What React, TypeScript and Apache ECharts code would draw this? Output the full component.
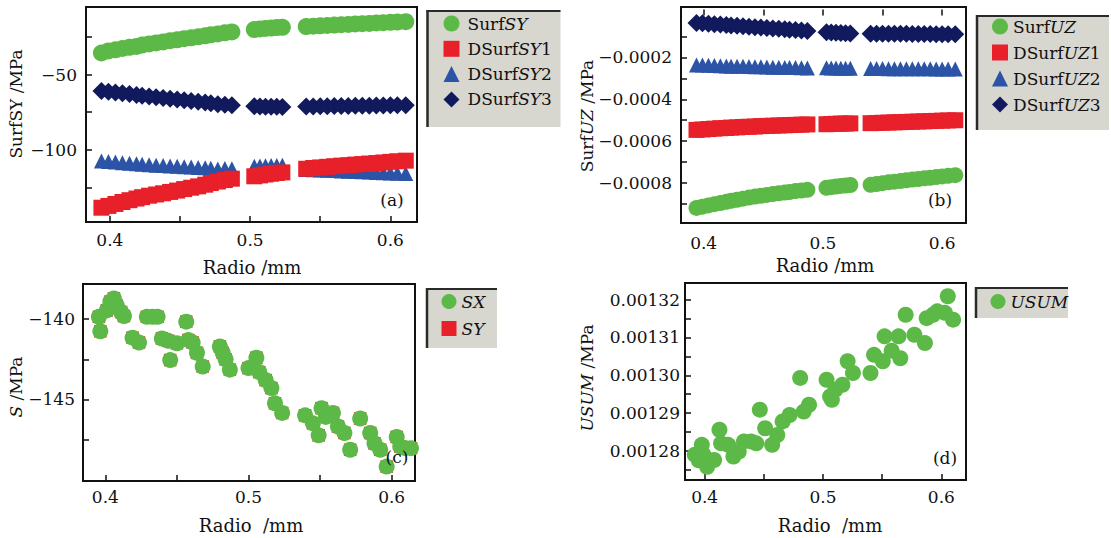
import React, { useEffect, useRef } from "react";
import * as echarts from "echarts";

// ---------- data ----------
const radius = [
  0.394, 0.399, 0.404, 0.409, 0.414, 0.419, 0.423, 0.428, 0.433, 0.438,
  0.443, 0.448, 0.453, 0.458, 0.463, 0.468, 0.472, 0.477, 0.482, 0.487,
  0.503, 0.507, 0.511, 0.515, 0.519, 0.523,
  0.54, 0.545, 0.55, 0.555, 0.56, 0.565, 0.57, 0.575, 0.58, 0.585, 0.59, 0.595, 0.6, 0.605, 0.611,
];
const surfSY = [
  -35.6, -34.2, -33.5, -32.6, -31.8, -31.2, -30.3, -29.6, -28.9, -28.2,
  -27.4, -26.8, -26.1, -25.5, -24.8, -24.2, -23.5, -22.9, -22.2, -21.6,
  -20.0, -19.6, -19.3, -19.0, -18.7, -18.5,
  -18.0, -17.8, -17.5, -17.3, -17.0, -16.8, -16.6, -16.3, -16.1, -15.9, -15.6, -15.4, -15.2, -15.0, -14.8,
];
const dSurfSY1 = [
  -138.5, -137.3, -136.0, -134.7, -133.5, -132.4, -131.5, -130.5, -129.7, -128.9,
  -128.0, -127.1, -126.1, -125.2, -124.3, -123.2, -122.1, -121.1, -120.1, -119.2,
  -117.6, -117.0, -116.4, -115.9, -115.4, -115.0,
  -112.6, -112.1, -111.7, -111.3, -110.9, -110.5, -110.2, -109.8, -109.5, -109.1, -108.8, -108.4, -108.0, -107.6, -107.2,
];
const dSurfSY2 = [
  -107.4, -107.8, -108.1, -108.6, -108.9, -109.2, -109.6, -109.9, -110.2, -110.5,
  -110.7, -111.0, -111.3, -111.5, -111.8, -112.0, -112.3, -112.8, -112.4, -112.6,
  -110.9, -110.7, -110.6, -110.5, -110.4, -110.3,
  -113.0, -113.2, -113.4, -113.6, -113.8, -114.0, -114.2, -114.4, -114.6, -114.8, -115.0, -115.2, -115.4, -115.6, -115.8,
];
const dSurfSY3 = [
  -60.8, -61.3, -61.9, -62.4, -62.9, -63.5, -64.0, -64.5, -65.0, -65.5,
  -66.1, -66.6, -67.1, -67.6, -68.1, -68.6, -69.1, -69.6, -70.0, -70.4,
  -71.0, -71.2, -71.3, -71.4, -71.4, -71.5,
  -71.2, -71.1, -71.0, -71.0, -70.9, -70.8, -70.8, -70.7, -70.6, -70.6, -70.5, -70.5, -70.4, -70.4, -70.3,
];

const surfUZ = [
  -0.000918, -0.000912, -0.000906, -0.0009, -0.000895, -0.000889, -0.000884, -0.000879, -0.000874, -0.000869,
  -0.000864, -0.00086, -0.000856, -0.000852, -0.000848, -0.000845, -0.000842, -0.000838, -0.000835, -0.000832,
  -0.000822, -0.000819, -0.000816, -0.000813, -0.000811, -0.000809,
  -0.000808, -0.000804, -0.0008, -0.000796, -0.000793, -0.00079, -0.000786, -0.000783, -0.00078, -0.000777, -0.000774, -0.000771, -0.000768, -0.000765, -0.000762,
];
const dSurfUZ1 = [
  -0.000546, -0.000544, -0.000542, -0.00054, -0.000538, -0.000537, -0.000535, -0.000534, -0.000532, -0.000531,
  -0.00053, -0.000528, -0.000527, -0.000526, -0.000525, -0.000524, -0.000523, -0.000522, -0.000521, -0.00052,
  -0.000519, -0.000518, -0.000517, -0.000516, -0.000516, -0.000515,
  -0.000514, -0.000513, -0.000512, -0.000511, -0.00051, -0.000509, -0.000508, -0.000507, -0.000506, -0.000505, -0.000504, -0.000503, -0.000502, -0.000501, -0.0005,
];
const dSurfUZ2 = [
  -0.000236, -0.000237, -0.000238, -0.000239, -0.00024, -0.000241, -0.000242, -0.000242, -0.000243, -0.000244,
  -0.000245, -0.000245, -0.000246, -0.000247, -0.000247, -0.000248, -0.000249, -0.000249, -0.00025, -0.000251,
  -0.00025, -0.000251, -0.000251, -0.000252, -0.000252, -0.000252,
  -0.000253, -0.000253, -0.000253, -0.000254, -0.000254, -0.000254, -0.000254, -0.000255, -0.000255, -0.000255, -0.000255, -0.000256, -0.000256, -0.000256, -0.000256,
];
const dSurfUZ3 = [
  -0.000036, -0.000038, -0.00004, -0.000042, -0.000044, -0.000046, -0.000048, -0.00005, -0.000052, -0.000054,
  -0.000056, -0.000058, -0.00006, -0.000062, -0.000064, -0.000066, -0.000068, -0.00007, -0.000072, -0.000075,
  -0.000081, -0.000082, -0.000083, -0.000084, -0.000085, -0.000086,
  -0.000087, -0.000087, -0.000087, -0.000088, -0.000088, -0.000088, -0.000088, -0.000089, -0.000089, -0.000089, -0.000089, -0.00009, -0.00009, -0.00009, -0.00009,
];

const radiusC = [
  0.3955, 0.3965, 0.401, 0.4035, 0.406, 0.408, 0.411, 0.413, 0.419, 0.4235,
  0.429, 0.433, 0.4365, 0.4395, 0.444, 0.4453, 0.45, 0.4565, 0.458, 0.461,
  0.464, 0.468, 0.48, 0.482, 0.484, 0.487, 0.5, 0.5055, 0.5075, 0.512,
  0.516, 0.5185, 0.5235, 0.5395, 0.545, 0.549, 0.551, 0.554, 0.559, 0.5625,
  0.567, 0.571, 0.578, 0.585, 0.588, 0.592, 0.5965, 0.6035, 0.606, 0.6095, 0.6135,
];
const sxValues = [
  -139.85, -140.75, -139.45, -138.9, -138.7, -139.15, -139.55, -139.8, -141.15, -141.45,
  -139.85, -139.85, -139.85, -141.2, -141.35, -142.55, -141.5, -140.15, -141.3, -141.45,
  -142.1, -142.95, -141.7, -142.1, -142.5, -143.15, -143.05, -142.4, -143.3, -143.8,
  -144.3, -145.25, -145.85, -146.0, -146.5, -147.25, -145.55, -146.1, -145.85, -146.7,
  -147.1, -148.15, -146.2, -147.1, -147.75, -148.15, -149.2, -147.35, -147.95, -148.05, -148.05,
];
const syValues = sxValues.slice();

const radiusD = [
  0.3917, 0.395, 0.3976, 0.3991, 0.4021, 0.408, 0.4125, 0.4139, 0.4199, 0.4243,
  0.4288, 0.4332, 0.4392, 0.4436, 0.4466, 0.4511, 0.457, 0.4614, 0.4659, 0.4718,
  0.4807, 0.4837, 0.4882, 0.503, 0.506, 0.5075, 0.5104, 0.5164, 0.5208, 0.5253,
  0.5401, 0.5431, 0.5505, 0.552, 0.558, 0.5638, 0.5653, 0.5698, 0.5772, 0.5861,
  0.5876, 0.593, 0.5965, 0.603, 0.6054, 0.6099,
];
const usumValues = [
  0.001279, 0.0012775, 0.0012816, 0.0012789, 0.0012758, 0.0012776, 0.0012856, 0.001282, 0.0012816, 0.0012785,
  0.0012798, 0.0012825, 0.0012825, 0.001282, 0.0012909, 0.001286, 0.0012816, 0.0012842, 0.0012878, 0.0012895,
  0.0012993, 0.0012904, 0.0012922, 0.0012988, 0.0012944, 0.0012935, 0.0012962, 0.0012975, 0.0013037, 0.0013006,
  0.0013006, 0.0013054, 0.0013037, 0.0013103, 0.0013065, 0.0013103, 0.0013045, 0.001316, 0.0013107, 0.0013085,
  0.0013151, 0.001316, 0.0013169, 0.0013165, 0.0013209, 0.0013147,
];

const xTicks = [0.4, 0.45, 0.5, 0.55, 0.6];
const xLabels = [0.4, 0.5, 0.6];
const yTicksA = [-125, -100, -75, -50, -25];
const yLabelsA = [-100, -50];
const yTicksB = [-0.0009, -0.0008, -0.0007, -0.0006, -0.0005, -0.0004, -0.0003, -0.0002, -0.0001];
const yLabelsB = [-0.0008, -0.0006, -0.0004, -0.0002];
const yTicksC = [-147.5, -145, -142.5, -140];
const yLabelsC = [-145, -140];
const yTicksD = [0.001275, 0.00128, 0.001285, 0.00129, 0.001295, 0.0013, 0.001305, 0.00131, 0.001315, 0.00132];
const yLabelsD = [0.00128, 0.00129, 0.0013, 0.00131, 0.00132];

// ---------- styling ----------
const FONT = '"DejaVu Serif", "Liberation Serif", serif';
const INK = "#111111";
const GREEN = "#5cb947";
const RED = "#e8202a";
const BLUE = "#2b53a6";
const NAVY = "#121a5e";
const LEGEND_BG = "#d7d7d0";

const MINUS = "\u2212";
const fmtNum = (v: number, d: number) => (v < 0 ? MINUS : "") + Math.abs(v).toFixed(d);

const rich = (size: number) => ({
  r: { fontFamily: FONT, fontSize: size, color: INK, lineHeight: 20 },
  i: { fontFamily: FONT, fontSize: size, color: INK, fontStyle: "italic", lineHeight: 20 },
});

const zip = (xs: number[], ys: number[]) => xs.map((x, i) => [x, ys[i]]);

function xAxis(gi: number, min: number, max: number, margin: number) {
  return {
    type: "value",
    gridIndex: gi,
    min,
    max,
    axisLine: { show: false },
    splitLine: { show: false },
    axisTick: { show: true, inside: true, length: 6, customValues: xTicks, lineStyle: { color: INK, width: 1.5 } },
    axisLabel: {
      customValues: xLabels,
      formatter: (v: number) => v.toFixed(1),
      color: INK,
      fontFamily: FONT,
      fontSize: 17,
      margin,
    },
  };
}

function yAxis(gi: number, min: number, max: number, ticks: number[], labels: number[], d: number, margin: number) {
  return {
    type: "value",
    gridIndex: gi,
    min,
    max,
    axisLine: { show: false },
    splitLine: { show: false },
    axisTick: { show: true, inside: true, length: 6, customValues: ticks, lineStyle: { color: INK, width: 1.5 } },
    axisLabel: {
      customValues: labels,
      formatter: (v: number) => fmtNum(v, d),
      color: INK,
      fontFamily: FONT,
      fontSize: 17,
      margin,
    },
  };
}

function scatter(name: string, gi: number, data: number[][], symbol: string, size: number, color: string, z = 2) {
  return {
    name,
    type: "scatter",
    xAxisIndex: gi,
    yAxisIndex: gi,
    data,
    symbol,
    symbolSize: size,
    itemStyle: { color, opacity: 1 },
    silent: true,
    z,
  };
}

const legendFmt: Record<string, string> = {
  SurfSY: "{r|Surf}{i|SY}",
  DSurfSY1: "{r|DSurf}{i|SY}{r|1}",
  DSurfSY2: "{r|DSurf}{i|SY}{r|2}",
  DSurfSY3: "{r|DSurf}{i|SY}{r|3}",
  SurfUZ: "{r|Surf}{i|UZ}",
  DSurfUZ1: "{r|DSurf}{i|UZ}{r|1}",
  DSurfUZ2: "{r|DSurf}{i|UZ}{r|2}",
  DSurfUZ3: "{r|DSurf}{i|UZ}{r|3}",
  SX: "{i|SX}",
  SY: "{i|SY}",
  USUM: "{i|USUM}",
};

function legend(names: string[], icons: string[], left: number, top: number, gap: number, iconSize: number, padLeft: number) {
  return {
    show: true,
    orient: "vertical",
    left,
    top,
    padding: 0,
    itemGap: gap,
    itemWidth: iconSize,
    itemHeight: iconSize,
    selectedMode: false,
    data: names.map((n, i) => ({ name: n, icon: icons[i] })),
    formatter: (n: string) => legendFmt[n],
    textStyle: { fontFamily: FONT, fontSize: 17, color: INK, padding: [0, 0, 0, padLeft], rich: rich(17) },
  };
}

function legendBox(x: number, y: number, w: number, h: number) {
  return [
    { type: "rect", shape: { x, y, width: w, height: h }, style: { fill: LEGEND_BG }, z: 0 },
    { type: "line", shape: { x1: x + 1, y1: y, x2: x + 1, y2: y + h }, style: { stroke: "#2a2a2a", lineWidth: 2.5 }, z: 1 },
    { type: "line", shape: { x1: x, y1: y + 1, x2: x + w, y2: y + 1 }, style: { stroke: "#2a2a2a", lineWidth: 2 }, z: 1 },
  ];
}

function label(text: string, x: number, y: number, size: number, rot = 0) {
  return {
    type: "text",
    x,
    y,
    rotation: rot,
    z: 20,
    style: {
      text,
      fill: INK,
      fontFamily: FONT,
      fontSize: size,
      align: "center",
      verticalAlign: "middle",
      textAlign: "center",
      textVerticalAlign: "middle",
      rich: {
        r: { fontFamily: FONT, fontSize: size, fill: INK },
        i: { fontFamily: FONT, fontSize: size, fill: INK, fontStyle: "italic" },
      },
    },
  };
}

export default function App() {
  const ref = useRef<HTMLDivElement>(null);
  useEffect(() => {
    if (!ref.current) return;
    const chart = echarts.init(ref.current, undefined, { renderer: "svg" });
    const gridStyle = { show: true, borderColor: INK, borderWidth: 2, backgroundColor: "transparent" };
    const option: any = {
      animation: false,
      backgroundColor: "#ffffff",
      grid: [
        { left: 86, top: 7, width: 331, height: 215, ...gridStyle },
        { left: 681, top: 7, width: 285, height: 216, ...gridStyle },
        { left: 83, top: 284, width: 332, height: 197, ...gridStyle },
        { left: 685, top: 283, width: 281, height: 197, ...gridStyle },
      ],
      xAxis: [
        xAxis(0, 0.383, 0.619, 9),
        xAxis(1, 0.381, 0.62, 11),
        xAxis(2, 0.3844, 0.6163, 7),
        xAxis(3, 0.3834, 0.6208, 8),
      ],
      yAxis: [
        yAxis(0, -148, -5, yTicksA, yLabelsA, 0, 9),
        yAxis(1, -0.00099, 0.00004, yTicksB, yLabelsB, 4, 9),
        yAxis(2, -150.1, -137.8, yTicksC, yLabelsC, 0, 8),
        yAxis(3, 0.0012723, 0.0013244, yTicksD, yLabelsD, 5, 5),
      ],
      legend: [
        legend(["SurfSY", "DSurfSY1", "DSurfSY2", "DSurfSY3"], ["circle", "rect", "triangle", "diamond"], 443.5, 15, 8.3, 16, 3),
        legend(["SurfUZ", "DSurfUZ1", "DSurfUZ2", "DSurfUZ3"], ["circle", "rect", "triangle", "diamond"], 992, 18, 9, 16, 0),
        legend(["SX", "SY"], ["circle", "rect"], 441.5, 293, 10, 15, 0),
        legend(["USUM"], ["circle"], 990.5, 293, 10, 15, 0),
      ],
      series: [
        scatter("SurfSY", 0, zip(radius, surfSY), "circle", 17, GREEN),
        scatter("DSurfSY2", 0, zip(radius, dSurfSY2), "triangle", 15, BLUE),
        scatter("DSurfSY1", 0, zip(radius, dSurfSY1), "rect", 16, RED, 3),
        scatter("DSurfSY3", 0, zip(radius, dSurfSY3), "diamond", 18, NAVY),
        scatter("SurfUZ", 1, zip(radius, surfUZ), "circle", 16, GREEN),
        scatter("DSurfUZ1", 1, zip(radius, dSurfUZ1), "rect", 16, RED),
        scatter("DSurfUZ2", 1, zip(radius, dSurfUZ2), "triangle", 15, BLUE),
        scatter("DSurfUZ3", 1, zip(radius, dSurfUZ3), "diamond", 18, NAVY),
        scatter("SY", 2, zip(radiusC, syValues), "rect", 12.5, RED, 2),
        scatter("SX", 2, zip(radiusC, sxValues), "circle", 16, GREEN, 3),
        scatter("USUM", 3, zip(radiusD, usumValues), "circle", 16, GREEN),
      ],
      graphic: [
        ...legendBox(426.5, 10, 134, 117),
        ...legendBox(976, 15, 133, 115),
        ...legendBox(426, 288, 71, 60),
        ...legendBox(975, 287, 93, 31),
        label("{r|SurfSY /MPa}", 16, 104, 17, Math.PI / 2),
        label("{r|Surf}{i|UZ}{r| /MPa}", 587, 116, 17, Math.PI / 2),
        label("{i|S}{r| /MPa}", 16, 387, 17, Math.PI / 2),
        label("{i|USUM}{r| /MPa}", 587, 378, 17, Math.PI / 2),
        label("{r|Radio /mm}", 252, 267, 18),
        label("{r|Radio /mm}", 825, 265, 18),
        label("{r|Radio  /mm}", 251, 525, 18),
        label("{r|Radio  /mm}", 830, 525, 18),
        label("{r|(a)}", 392, 200, 17),
        label("{r|(b)}", 940, 200, 17),
        label("{r|(c)}", 397, 457, 17),
        label("{r|(d)}", 945, 458, 17),
      ],
    };
    chart.setOption(option);
    return () => chart.dispose();
  }, []);
  return (
    <div
      ref={ref}
      style={{ position: "fixed", left: 0, top: 0, width: 1111, height: 538, background: "#fff" }}
    />
  );
}
